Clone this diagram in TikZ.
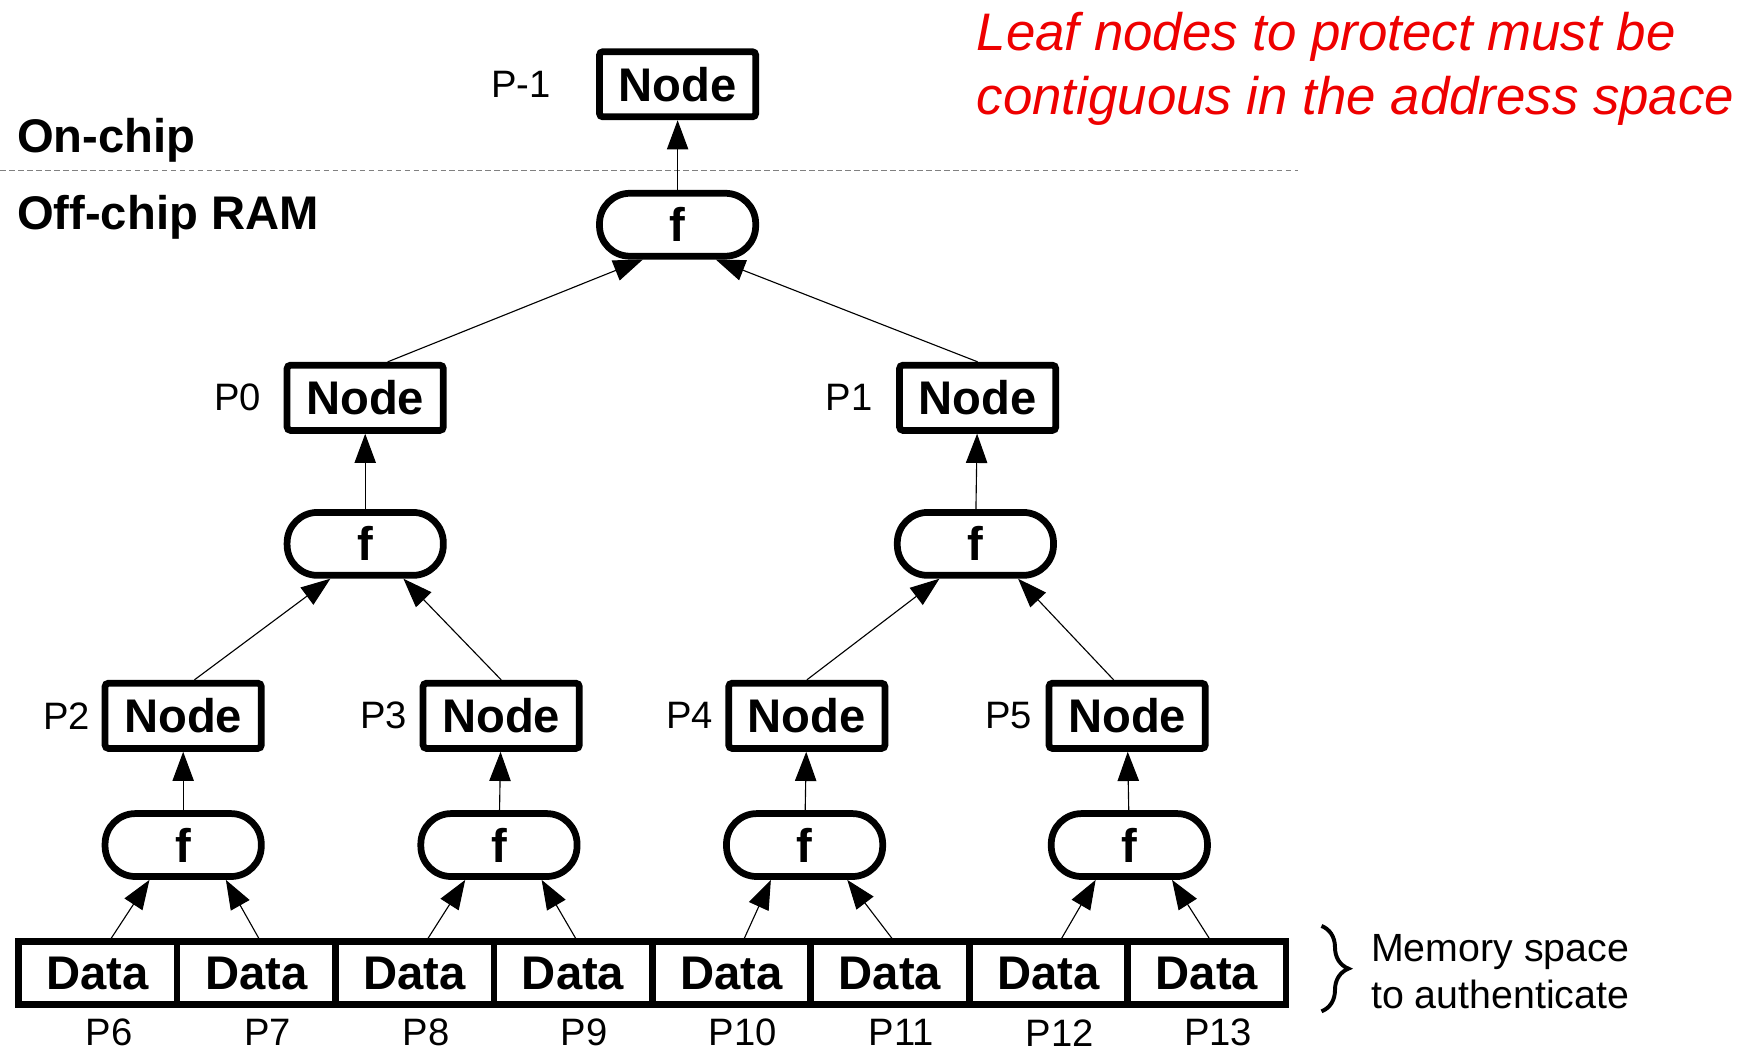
\documentclass[tikz,border=0pt]{standalone}
\usepackage{fontspec}
\setmainfont{Liberation Sans}
\usepackage{tikz}
\usetikzlibrary{positioning,arrows.meta,calc,decorations.pathreplacing}
\definecolor{noteRed}{HTML}{EE0000}
\definecolor{sepGray}{HTML}{808080}

\begin{document}
\begin{tikzpicture}[
  x=1pt, y=-1pt,
  every node/.style={inner sep=0pt},
  treenode/.style={rectangle, rounded corners=3pt, draw, line width=6pt, minimum width=139pt,
                   minimum height=58pt, font=\fontsize{42}{48}\selectfont\bfseries},
  hashfn/.style={rectangle, rounded corners=27pt, draw, line width=6pt, minimum width=139pt,
                 minimum height=56pt, font=\fontsize{42}{48}\selectfont\bfseries},
  datacell/.style={rectangle, draw, line width=6pt, outer sep=0pt, minimum width=141pt,
                   minimum height=56pt, font=\fontsize{42}{48}\selectfont\bfseries},
  addr/.style={font=\fontsize{34}{40}\selectfont},
  region/.style={anchor=base west, font=\fontsize{42}{48}\selectfont\bfseries},
  link/.style={-{Triangle[length=26pt,width=19pt]}, line width=1pt},
]
  \useasboundingbox (0,0) rectangle (1568,936);

  % on-chip / off-chip split
  \node[region] (onchip) at (15,136) {On-chip};
  \node[region] (offchip) at (15,204) {Off-chip RAM};
  \coordinate (sepL) at (0,152);
  \coordinate (sepR) at (1155,152);
  \draw[sepGray, line width=1pt, dash pattern=on 5pt off 3pt] (sepL) -- (sepR);

  \node[anchor=north west, align=left, text=noteRed,
        font=\fontsize{47}{57}\selectfont\itshape] (note) at (869,11)
        {Leaf nodes to protect must be\\contiguous in the address space};

  % tree
  \node[treenode] (root) at (603,75) {Node};
  \node[addr, left=40pt of root] (lroot) {P-1};
  \node[hashfn] (froot) at (603,200) {f};

  \node[treenode] (n0) at (325,354) {Node};
  \node[addr, left=20pt of n0] (l0) {P0};
  \node[treenode] (n1) at (870,354) {Node};
  \node[addr, left=21pt of n1] (l1) {P1};
  \node[hashfn] (f0) at (325,484) {f};
  \node[hashfn] (f1) at (868,484) {f};

  \node[treenode] (n2) at (163,637) {Node};
  \node[addr, left=10pt of n2] (l2) {P2};
  \node[treenode] (n3) at (446,637) {Node};
  \node[addr, left=11pt of n3] (l3) {P3};
  \node[treenode] (n4) at (718,637) {Node};
  \node[addr, left=11pt of n4] (l4) {P4};
  \node[treenode] (n5) at (1003,637) {Node};
  \node[addr, left=12pt of n5] (l5) {P5};

  \node[hashfn] (f2) at (163,752) {f};
  \node[hashfn] (f3) at (444,752) {f};
  \node[hashfn] (f4) at (716,752) {f};
  \node[hashfn] (f5) at (1005,752) {f};

  % leaves
  \node[datacell] (d6) at (87,866) {Data};
  \node[datacell, right=0pt of d6] (d7) {Data};
  \node[datacell, right=0pt of d7] (d8) {Data};
  \node[datacell, right=0pt of d8] (d9) {Data};
  \node[datacell, right=0pt of d9] (d10) {Data};
  \node[datacell, right=0pt of d10] (d11) {Data};
  \node[datacell, right=0pt of d11] (d12) {Data};
  \node[datacell, right=0pt of d12] (d13) {Data};

  \node[addr] (l6) at ([xshift=10pt,yshift=-25pt]d6.south) {P6};
  \node[addr] (l7) at ([xshift=10pt,yshift=-25pt]d7.south) {P7};
  \node[addr] (l8) at ([xshift=10pt,yshift=-25pt]d8.south) {P8};
  \node[addr] (l9) at ([xshift=10pt,yshift=-25pt]d9.south) {P9};
  \node[addr] (l10) at ([xshift=10pt,yshift=-25pt]d10.south) {P10};
  \node[addr] (l11) at ([xshift=10pt,yshift=-25pt]d11.south) {P11};
  \node[addr] (l12) at ([xshift=10pt,yshift=-25pt]d12.south) {P12};
  \node[addr] (l13) at ([xshift=10pt,yshift=-25pt]d13.south) {P13};

  \coordinate (braceT) at (1176,824);
  \coordinate (braceB) at (1176,900);
  \draw[decorate, decoration={brace, amplitude=24pt}, line width=3.5pt] (braceT) -- (braceB);
  \node[anchor=north west, align=left, font=\fontsize{35}{42}\selectfont] (mem) at (1220,831)
        {Memory space\\to authenticate};

  % hash edges
  \draw[link] (froot) -- (root);
  \draw[link] ([xshift=20pt]n0.north) -- ([xshift=-31pt]froot.south);
  \draw[link] (n1.north) -- ([xshift=34pt]froot.south);
  \draw[link] (f0) -- (n0);
  \draw[link] (f1) -- (n1);
  \draw[link] ([xshift=10pt]n2.north) -- ([xshift=-31pt]f0.south);
  \draw[link] (n3.north) -- ([xshift=34pt]f0.south);
  \draw[link] (n4.north) -- ([xshift=-32pt]f1.south);
  \draw[link] ([xshift=-12pt]n5.north) -- ([xshift=38pt]f1.south);
  \draw[link] (f2) -- (n2);
  \draw[link] (f3) -- (n3);
  \draw[link] (f4) -- (n4);
  \draw[link] (f5) -- (n5);
  \draw[link] ([xshift=10pt]d6.north) -- ([xshift=-30pt]f2.south);
  \draw[link] ([xshift=4pt]d7.north) -- ([xshift=38pt]f2.south);
  \draw[link] ([xshift=10pt]d8.north) -- ([xshift=-30pt]f3.south);
  \draw[link] ([xshift=4pt]d9.north) -- ([xshift=38pt]f3.south);
  \draw[link] ([xshift=10pt]d10.north) -- ([xshift=-30pt]f4.south);
  \draw[link] ([xshift=4pt]d11.north) -- ([xshift=38pt]f4.south);
  \draw[link] ([xshift=10pt]d12.north) -- ([xshift=-30pt]f5.south);
  \draw[link] ([xshift=4pt]d13.north) -- ([xshift=38pt]f5.south);
\end{tikzpicture}
\end{document}
